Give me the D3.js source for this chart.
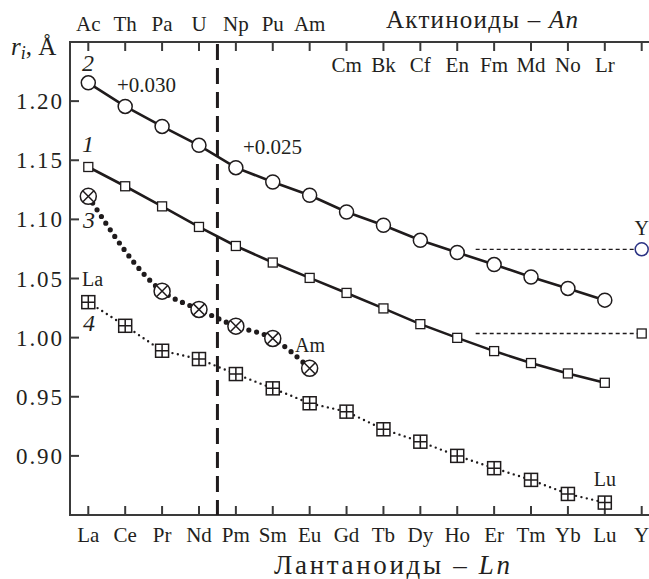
<!DOCTYPE html>
<meta charset="utf-8">
<style>
body { margin: 0; background: #fff; }
svg text { fill: #231f20; }
.ital { font-style: italic; }
</style>
<svg width="649" height="579"></svg>
<script src="https://d3js.org/d3.v7.min.js"></script>
<script>

// lanthanides along the bottom, actinides along the top
const lnLabels = ["La","Ce","Pr","Nd","Pm","Sm","Eu","Gd","Tb","Dy","Ho","Er","Tm","Yb","Lu","Y"];
const anAbove = ["Ac","Th","Pa","U","Np","Pu","Am"];
const anBelow = ["Cm","Bk","Cf","En","Fm","Md","No","Lr"];
const yTicks = [0.90, 0.95, 1.00, 1.05, 1.10, 1.15, 1.20];

// curve 2: actinides (with offsets), circles
const anRadii = [1.2155,1.1955,1.1786,1.1626,1.1437,1.1316,1.1204,1.1062,1.095,1.0823,1.072,1.0618,1.0513,1.0416,1.0317];
// curve 1: lanthanides, squares
const lnRadii = [1.1443,1.128,1.111,1.0936,1.0775,1.0635,1.0505,1.0378,1.0247,1.0114,0.9998,0.9886,0.9785,0.9697,0.9618];
// yttrium points
const yCircle = 1.0747;
const ySquare = 1.0035;
// curve 3: crossed circles
const s3Index = [0,2,3,4,5,6];
const s3Values = [1.1195,1.0393,1.0238,1.0097,0.9993,0.974];
// curve 4: crossed squares
const s4Values = [1.030,1.010,0.9889,0.9819,0.9692,0.9571,0.9445,0.9374,0.9225,0.912,0.900,0.8896,0.8797,0.8678,0.8605];

const FONT = "'Liberation Serif', monospace";

const svg = d3.select("svg");
const mLeft = 70, mTop = 42, mBottom = 515, mRight = 649;

const x = d3.scaleLinear().domain([0, 15]).range([88.3, 641.7]);
const y = d3.scaleLinear().domain([0.85, 1.25]).range([mBottom, mTop]);

const ink = "#1f1b1c";

// frame lines
const frame = svg.append("g").attr("stroke", "#3a3a3a").attr("stroke-width", 2);
frame.append("line").attr("x1", mLeft).attr("x2", mLeft).attr("y1", mTop).attr("y2", mBottom);
frame.append("line").attr("x1", mLeft - 1).attr("x2", mRight).attr("y1", mTop).attr("y2", mTop);
frame.append("line").attr("x1", mLeft - 1).attr("x2", mRight).attr("y1", mBottom).attr("y2", mBottom);

// ticks
const idx = d3.range(16);
frame.selectAll(".tb").data(idx).enter().append("line")
  .attr("x1", d => x(d)).attr("x2", d => x(d))
  .attr("y1", mBottom).attr("y2", mBottom - 9);
frame.selectAll(".tt").data(idx).enter().append("line")
  .attr("x1", d => x(d)).attr("x2", d => x(d))
  .attr("y1", mTop).attr("y2", mTop + 9);
frame.selectAll(".tl").data(yTicks).enter().append("line")
  .attr("x1", mLeft).attr("x2", mLeft + 9)
  .attr("y1", d => y(d)).attr("y2", d => y(d));

// tick labels
svg.selectAll(".yl").data(yTicks).enter().append("text")
  .attr("x", 62).attr("y", d => y(d) + 8)
  .attr("text-anchor", "end").attr("font-size", 23)
  .attr("textLength", 46).attr("lengthAdjust", "spacing")
  .text(d => d.toFixed(2));

svg.selectAll(".xl").data(lnLabels).enter().append("text")
  .attr("x", (d, i) => x(i)).attr("y", 542)
  .attr("text-anchor", "middle").attr("font-size", 21)
  .text(d => d);

svg.selectAll(".al").data(anAbove).enter().append("text")
  .attr("x", (d, i) => x(i)).attr("y", 31)
  .attr("text-anchor", "middle").attr("font-size", 21)
  .text(d => d);

svg.selectAll(".ab").data(anBelow).enter().append("text")
  .attr("x", (d, i) => x(i + 7)).attr("y", 72)
  .attr("text-anchor", "middle").attr("font-size", 21)
  .text(d => d);

// titles
const t1 = svg.append("text").attr("x", 386).attr("y", 28).attr("font-size", 25)
  .attr("textLength", 192).attr("lengthAdjust", "spacing");
t1.append("tspan").text("Актиноиды – ");
t1.append("tspan").attr("class", "ital").text("An");

const t2 = svg.append("text").attr("x", 274).attr("y", 574).attr("font-size", 27)
  .attr("textLength", 236).attr("lengthAdjust", "spacing");
t2.append("tspan").text("Лантаноиды – ");
t2.append("tspan").attr("class", "ital").text("Ln");

const ya = svg.append("text").attr("x", 11).attr("y", 55).attr("font-size", 25);
ya.append("tspan").attr("class", "ital").text("r");
ya.append("tspan").attr("class", "ital").attr("font-size", 18).attr("dy", 4).text("i");
ya.append("tspan").attr("dy", -4).text(", Å");

// dashed separator between Nd and Pm
svg.append("line")
  .attr("x1", x(3.5)).attr("x2", x(3.5)).attr("y1", mTop + 2).attr("y2", mBottom)
  .attr("stroke", ink).attr("stroke-width", 3).attr("stroke-dasharray", "16,8");

const line = d3.line().x(d => x(d[0])).y(d => y(d[1]));

// yttrium reference dashed lines
svg.append("path").attr("d", line([[10.5, yCircle], [15, yCircle]]))
  .attr("stroke", ink).attr("stroke-width", 1.3).attr("stroke-dasharray", "4,3").attr("fill", "none");
svg.append("path").attr("d", line([[10.5, ySquare], [15, ySquare]]))
  .attr("stroke", ink).attr("stroke-width", 1.3).attr("stroke-dasharray", "4,3").attr("fill", "none");

// curve 4 dotted
const s4 = s4Values.map((v, i) => [i, v]);
svg.append("path").attr("d", line(s4))
  .attr("fill", "none").attr("stroke", ink).attr("stroke-width", 2.4)
  .attr("stroke-linecap", "round").attr("stroke-dasharray", "0,5.5");

// curve 3 big dots
const s3 = s3Index.map((d, i) => [d, s3Values[i]]);
svg.append("path").attr("d", d3.line().x(d => x(d[0])).y(d => y(d[1])).curve(d3.curveMonotoneX)(s3))
  .attr("fill", "none").attr("stroke", ink).attr("stroke-width", 5.2)
  .attr("stroke-linecap", "round").attr("stroke-dasharray", "0,8");

// curves 1 and 2 solid
svg.append("path").attr("d", line(anRadii.map((v, i) => [i, v])))
  .attr("fill", "none").attr("stroke", ink).attr("stroke-width", 2.6);
svg.append("path").attr("d", line(lnRadii.map((v, i) => [i, v])))
  .attr("fill", "none").attr("stroke", ink).attr("stroke-width", 2.6);

// markers
svg.selectAll(".c2").data(anRadii).enter().append("circle")
  .attr("cx", (d, i) => x(i)).attr("cy", d => y(d)).attr("r", 7)
  .attr("fill", "#fff").attr("stroke", ink).attr("stroke-width", 1.5);

svg.selectAll(".s1").data(lnRadii).enter().append("rect")
  .attr("x", (d, i) => x(i) - 4.5).attr("y", d => y(d) - 4.5)
  .attr("width", 9).attr("height", 9)
  .attr("fill", "#fff").attr("stroke", ink).attr("stroke-width", 1.3);

svg.append("circle").attr("cx", x(15)).attr("cy", y(yCircle)).attr("r", 6.5)
  .attr("fill", "#fff").attr("stroke", "#2b3384").attr("stroke-width", 1.5);
svg.append("rect").attr("x", x(15) - 4.5).attr("y", y(ySquare) - 4.5)
  .attr("width", 9).attr("height", 9)
  .attr("fill", "#fff").attr("stroke", ink).attr("stroke-width", 1.3);

const m3 = svg.selectAll(".m3").data(s3).enter().append("g")
  .attr("transform", d => `translate(${x(d[0])},${y(d[1])})`)
  .attr("stroke", ink).attr("stroke-width", 1.5);
m3.append("circle").attr("r", 8).attr("fill", "#fff");
m3.append("path").attr("d", "M-5.6,-5.6L5.6,5.6M-5.6,5.6L5.6,-5.6");

const m4 = svg.selectAll(".m4").data(s4).enter().append("g")
  .attr("transform", d => `translate(${x(d[0])},${y(d[1])})`)
  .attr("stroke", ink).attr("stroke-width", 1.5);
m4.append("rect").attr("x", -6.5).attr("y", -6.5).attr("width", 13).attr("height", 13).attr("fill", "#fff");
m4.append("path").attr("d", "M0,-6.5V6.5M-6.5,0H6.5");

// annotations
const notes = svg.append("g").attr("font-size", 20);
[["2", 88, 71], ["1", 88, 152], ["3", 89, 228], ["4", 89, 331]].forEach(n => {
  notes.append("text").attr("class", "ital").attr("font-size", 24)
    .attr("x", n[1]).attr("y", n[2]).attr("text-anchor", "middle").text(n[0]);
});
notes.append("text").attr("x", 117).attr("y", 92).attr("font-size", 21).text("+0.030");
notes.append("text").attr("x", 243).attr("y", 154).attr("font-size", 21).text("+0.025");
notes.append("text").attr("x", 82).attr("y", 286).text("La");
notes.append("text").attr("x", 295).attr("y", 352).text("Am");
notes.append("text").attr("x", x(15)).attr("y", 235).attr("text-anchor", "middle").text("Y");
notes.append("text").attr("x", x(14)).attr("y", 486).attr("text-anchor", "middle").text("Lu");

// every text element gets the serif family directly
svg.selectAll("text").attr("font-family", FONT);

</script>
